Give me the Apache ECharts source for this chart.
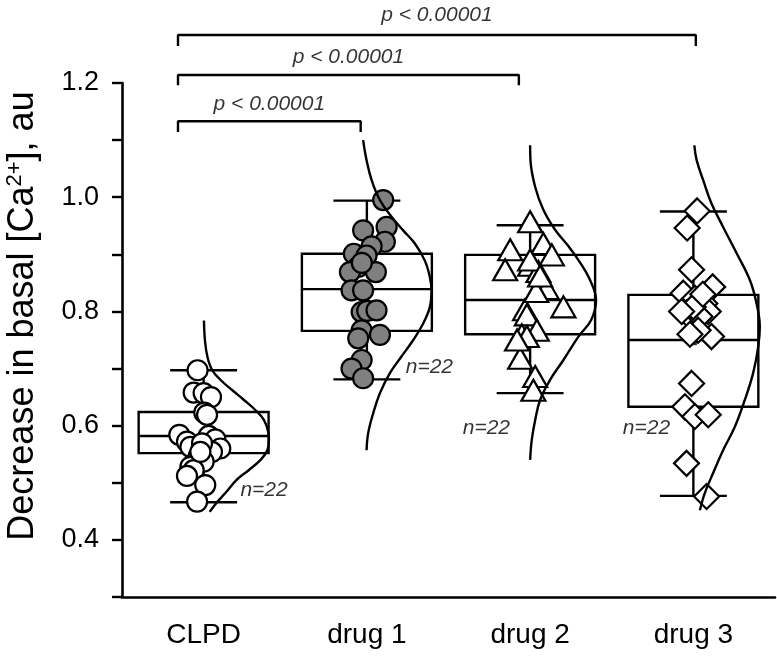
<!DOCTYPE html>
<html><head><meta charset="utf-8">
<script src="https://cdn.jsdelivr.net/npm/echarts@6/dist/echarts.min.js"></script>
<style>html,body{margin:0;padding:0;background:#fff}#c{width:777px;height:659px}</style>
</head><body><div id="c"></div>
<script>
// ---------------- DATA ----------------
const categories = ['CLPD', 'drug 1', 'drug 2', 'drug 3'];
const yTickLabels = ['0.4', '0.6', '0.8', '1.0', '1.2'];
const nLabels = ['n=22', 'n=22', 'n=22', 'n=22'];
const pLabels = ['p < 0.00001', 'p < 0.00001', 'p < 0.00001'];

// box statistics [lower whisker, Q1, median, Q3, upper whisker]
const boxCLPD  = [0.466, 0.552, 0.582, 0.624, 0.697];
const boxDrug1 = [0.681, 0.766, 0.839, 0.901, 0.994];
const boxDrug2 = [0.657, 0.760, 0.820, 0.899, 0.951];
const boxDrug3 = [0.477, 0.633, 0.750, 0.829, 0.975];
const meanDrug3 = 0.747;

// individual points (value) and horizontal jitter (fraction of category width)
const valuesCLPD = [0.697,0.658,0.657,0.650,0.623,0.619,0.584,0.572,0.582,0.576,0.560,0.554,0.563,0.569,0.546,0.537,0.528,0.522,0.512,0.496,0.467,0.554];
const jitterCLPD = [-0.037,-0.061,0.000,0.045,0.004,0.021,-0.149,-0.102,0.031,0.072,0.102,0.051,-0.081,-0.010,-0.031,0.000,-0.081,-0.061,-0.102,0.010,-0.040,-0.020];
const valuesDrug1 = [0.995,0.948,0.942,0.922,0.914,0.901,0.898,0.878,0.869,0.869,0.837,0.837,0.799,0.801,0.802,0.767,0.753,0.759,0.715,0.700,0.683,0.885];
const jitterDrug1 = [0.100,0.121,-0.023,0.110,0.029,-0.080,-0.002,-0.053,-0.104,0.055,-0.094,-0.023,-0.032,0.002,0.059,-0.032,-0.053,0.080,-0.032,-0.094,-0.023,-0.031];
const valuesDrug2 = [0.957,0.919,0.899,0.908,0.873,0.881,0.870,0.846,0.840,0.808,0.803,0.794,0.767,0.759,0.756,0.718,0.686,0.662,0.890,0.835,0.750,0.862];
const jitterDrug2 = [0.000,0.081,0.133,-0.122,-0.153,0.000,0.051,0.061,0.102,0.204,-0.031,-0.020,0.041,-0.051,-0.020,-0.061,0.031,0.020,0.000,0.037,-0.080,0.061];
const valuesDrug3 = [0.976,0.946,0.873,0.843,0.832,0.823,0.814,0.800,0.797,0.791,0.808,0.756,0.767,0.674,0.633,0.616,0.619,0.534,0.476,0.800,0.830,0.760];
const jitterDrug3 = [0.023,-0.038,-0.011,0.118,-0.062,0.009,0.070,0.091,-0.042,0.040,-0.001,0.111,0.029,-0.011,-0.052,0.009,0.091,-0.042,0.081,-0.072,0.058,-0.021];

// fitted distribution curves: value and width (fraction of category width)
const curveYCLPD = [0.784,0.750,0.721,0.697,0.680,0.662,0.645,0.627,0.610,0.589,0.575,0.557,0.540,0.522,0.505,0.482,0.466,0.449];
const curveWCLPD = [0.002,0.008,0.023,0.053,0.104,0.176,0.247,0.318,0.369,0.396,0.400,0.390,0.349,0.276,0.202,0.133,0.082,0.037];
const curveYDrug1 = [1.100,1.065,1.030,0.995,0.966,0.942,0.919,0.889,0.860,0.837,0.808,0.779,0.750,0.721,0.692,0.657,0.622,0.587,0.557];
const curveWDrug1 = [-0.023,-0.002,0.029,0.080,0.151,0.222,0.294,0.355,0.386,0.396,0.386,0.345,0.284,0.212,0.141,0.080,0.039,0.008,-0.002];
const curveYDrug2 = [1.091,1.065,1.018,0.978,0.943,0.914,0.890,0.855,0.820,0.785,0.756,0.715,0.680,0.645,0.610,0.575,0.540];
const curveWDrug2 = [0.000,0.002,0.031,0.081,0.153,0.235,0.296,0.367,0.404,0.374,0.296,0.204,0.122,0.061,0.031,0.010,0.000];
const curveYDrug3 = [1.091,1.065,1.030,0.989,0.948,0.902,0.855,0.814,0.773,0.738,0.692,0.645,0.598,0.557,0.517,0.482,0.452];
const curveWDrug3 = [0.006,0.020,0.060,0.111,0.182,0.265,0.346,0.387,0.407,0.397,0.366,0.315,0.254,0.182,0.121,0.070,0.040];

// ---------------- LAYOUT / STYLE ----------------
const FONT = "'Liberation Sans', Arial, Helvetica, sans-serif";
const layout = {
  boxHalf: 0.398, capHalf: 0.205,
  nPos: [[0.870, 0.487], [1.883, 0.703], [2.232, 0.596], [3.213, 0.596]],
  brackets: [
    {x1: 0.343, x2: 1.462, top: 1.133, foot: 1.114, textY: 1.163},
    {x1: 0.343, x2: 2.431, top: 1.214, foot: 1.196, textY: 1.245},
    {x1: 0.343, x2: 3.515, top: 1.284, foot: 1.265, textY: 1.318}
  ]
};
const boxes = [boxCLPD, boxDrug1, boxDrug2, boxDrug3];
const groupValues = [valuesCLPD, valuesDrug1, valuesDrug2, valuesDrug3];
const groupJitter = [jitterCLPD, jitterDrug1, jitterDrug2, jitterDrug3];
const curvesY = [curveYCLPD, curveYDrug1, curveYDrug2, curveYDrug3];
const curvesW = [curveWCLPD, curveWDrug1, curveWDrug2, curveWDrug3];
const symbolStyles = [
  {symbol: 'circle', symbolSize: 20, fill: '#ffffff'},
  {symbol: 'circle', symbolSize: 20, fill: '#808080'},
  {symbol: 'triangle', symbolSize: [24, 21], fill: '#ffffff'},
  {symbol: 'diamond', symbolSize: [25, 25], fill: '#ffffff'}
];

const series = [];
// boxes
series.push({
  type: 'custom', xAxisIndex: 1, yAxisIndex: 0, z: 1, silent: true,
  data: boxes.map((b, i) => [i + 0.5].concat(b)),
  renderItem: function (params, api) {
    const xc = api.value(0);
    const pMin = api.coord([xc, api.value(1)]);
    const pQ1 = api.coord([xc, api.value(2)]);
    const pMed = api.coord([xc, api.value(3)]);
    const pQ3 = api.coord([xc, api.value(4)]);
    const pMax = api.coord([xc, api.value(5)]);
    const hb = api.size([layout.boxHalf, 0])[0];
    const hc = api.size([layout.capHalf, 0])[0];
    const st = {stroke: '#000', lineWidth: 2.4, fill: null};
    const ln = (x1, y1, x2, y2) => ({type: 'line', shape: {x1, y1, x2, y2}, style: st});
    const x = pMed[0];
    return {type: 'group', children: [
      ln(x, pMax[1], x, pQ3[1]),
      ln(x, pQ1[1], x, pMin[1]),
      ln(x - hc, pMax[1], x + hc, pMax[1]),
      ln(x - hc, pMin[1], x + hc, pMin[1]),
      {type: 'rect', shape: {x: x - hb, y: pQ3[1], width: 2 * hb, height: pQ1[1] - pQ3[1]}, style: {stroke: '#000', lineWidth: 2.4, fill: '#fff'}},
      ln(x - hb, pMed[1], x + hb, pMed[1])
    ]};
  }
});
// mean marker of drug 3
series.push({
  type: 'scatter', xAxisIndex: 1, yAxisIndex: 0, z: 2, symbol: 'rect', symbolSize: 7,
  itemStyle: {color: '#000'}, data: [[3.5, meanDrug3]], silent: true
});
// points
groupValues.forEach((vals, g) => {
  const s = symbolStyles[g];
  series.push({
    type: 'scatter', xAxisIndex: 1, yAxisIndex: 0, z: 3, silent: true,
    symbol: s.symbol, symbolSize: s.symbolSize,
    itemStyle: {color: s.fill, borderColor: '#000', borderWidth: 2.2, opacity: 1},
    data: vals.map((v, k) => [g + 0.5 + groupJitter[g][k], v])
  });
});
// distribution curves
curvesY.forEach((ys, g) => {
  series.push({
    type: 'line', xAxisIndex: 1, yAxisIndex: 0, z: 4, silent: true,
    smooth: 0.4, symbol: 'none', clip: false,
    lineStyle: {color: '#000', width: 2.4},
    data: ys.map((v, k) => [g + 0.5 + curvesW[g][k], v])
  });
});
// n labels
series.push({
  type: 'scatter', xAxisIndex: 1, yAxisIndex: 0, z: 5, silent: true, symbolSize: 1,
  itemStyle: {color: 'rgba(0,0,0,0)'},
  label: {show: true, position: 'inside', formatter: p => nLabels[p.dataIndex],
    fontFamily: FONT, fontStyle: 'italic', fontSize: 21, color: '#000'},
  data: layout.nPos
});
// significance brackets
layout.brackets.forEach((b, i) => {
  series.push({
    type: 'line', xAxisIndex: 1, yAxisIndex: 0, z: 5, silent: true, clip: false,
    symbol: 'none', lineStyle: {color: '#000', width: 2.4},
    data: [[b.x1, b.foot], [b.x1, b.top], [b.x2, b.top], [b.x2, b.foot]]
  });
});
series.push({
  type: 'scatter', xAxisIndex: 1, yAxisIndex: 0, z: 5, silent: true, clip: false, symbolSize: 1,
  itemStyle: {color: 'rgba(0,0,0,0)'},
  label: {show: true, position: 'inside', formatter: p => pLabels[p.dataIndex],
    fontFamily: FONT, fontStyle: 'italic', fontSize: 21, color: '#000'},
  data: layout.brackets.map(b => [(b.x1 + b.x2) / 2, b.textY])
});

const chart = echarts.init(document.getElementById('c'), null, {renderer: 'canvas'});
chart.setOption({
  animation: false,
  backgroundColor: '#fff',
  grid: {left: 122, right: 2, top: 83, bottom: 62, containLabel: false, outerBoundsMode: 'none'},
  xAxis: [
    {type: 'category', data: categories, boundaryGap: true,
     axisLine: {lineStyle: {color: '#000', width: 2.6}},
     axisTick: {alignWithLabel: true, length: 10, lineStyle: {color: '#000', width: 2.4}},
     axisLabel: {color: '#000', fontSize: 28, fontFamily: FONT, margin: 24},
     splitLine: {show: false}},
    {type: 'value', min: 0, max: 4, show: false, splitLine: {show: false}}
  ],
  yAxis: [{
    type: 'value', min: 0.3, max: 1.2, interval: 0.1,
    axisLine: {show: true, lineStyle: {color: '#000', width: 2.6}},
    axisTick: {show: true, length: 10, lineStyle: {color: '#000', width: 2.4}},
    axisLabel: {color: '#000', fontSize: 27, fontFamily: FONT, margin: 23,
      formatter: v => yTickLabels.indexOf(v.toFixed(1)) >= 0 ? v.toFixed(1) : ''},
    splitLine: {show: false},
    name: 'Decrease in basal [Ca{sup|2+}], au',
    nameLocation: 'middle', nameGap: 80,
    nameTextStyle: {color: '#000', fontSize: 36, fontFamily: FONT, padding: [0, 0, 0, 48],
      rich: {sup: {fontSize: 22, fontFamily: FONT, color: '#000', verticalAlign: 'top', padding: [0, 0, 16, 0]}}}
  }],
  series: series
});
</script>
</body></html>
